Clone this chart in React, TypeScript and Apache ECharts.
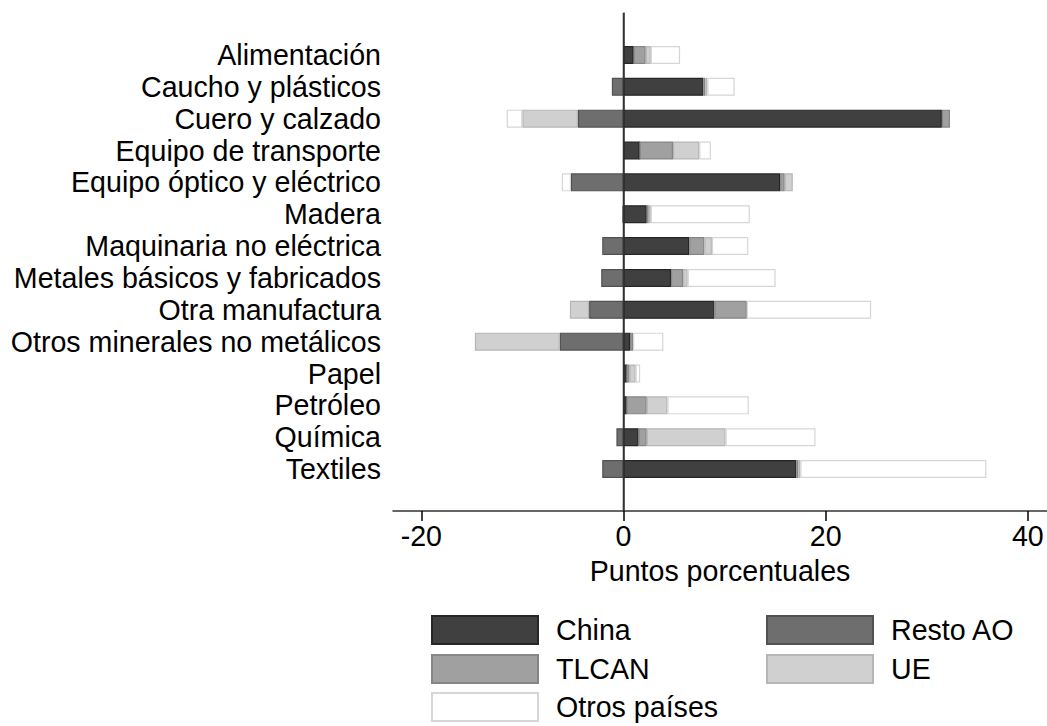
import React, { useEffect, useRef } from "react";
import * as echarts from "echarts";

const categories = [
  "Alimentación",
  "Caucho y plásticos",
  "Cuero y calzado",
  "Equipo de transporte",
  "Equipo óptico y eléctrico",
  "Madera",
  "Maquinaria no eléctrica",
  "Metales básicos y fabricados",
  "Otra manufactura",
  "Otros minerales no metálicos",
  "Papel",
  "Petróleo",
  "Química",
  "Textiles",
];

const china = [1.0, 7.9, 31.5, 1.6, 15.5, 2.3, 6.5, 4.7, 9.0, 0.65, 0.3, 0.3, 1.5, 17.1];
const restoAO = [0, -1.15, -4.5, 0, -5.2, -0.1, -2.1, -2.2, -3.4, -6.3, 0, 0, -0.7, -2.1];
const tlcan = [1.2, 0.2, 0.8, 3.3, 0.45, 0.2, 1.5, 1.2, 3.2, 0.3, 0.3, 2.0, 0.8, 0.2];
const ue = [0.5, 0.2, -5.5, 2.6, 0.8, 0.2, 0.75, 0.45, -1.9, -8.4, 0.6, 2.05, 7.8, 0.2];
const otros = [2.9, 2.7, -1.55, 1.15, -0.9, 9.8, 3.6, 8.7, 12.3, 3.0, 0.45, 8.05, 8.9, 18.4];

const xTicks = [-20, 0, 20, 40];
const xMin = -22.8;
const xMax = 41.9;

const FONT = '"Liberation Sans", Arial, sans-serif';
const FS = 28.6;

export default function App() {
  const ref = useRef<HTMLDivElement>(null);
  useEffect(() => {
    if (!ref.current) return;
    const chart = echarts.init(ref.current, null, { renderer: "svg" });
    const seriesDefs = [
      { name: "China", data: china, color: "#404040", border: "#262626" },
      { name: "Resto AO", data: restoAO, color: "#6e6e6e", border: "#525252" },
      { name: "TLCAN", data: tlcan, color: "#a0a0a0", border: "#868686" },
      { name: "UE", data: ue, color: "#d0d0d0", border: "#b6b6b6" },
      { name: "Otros países", data: otros, color: "#ffffff", border: "#d6d6d6" },
    ];
    const legendPos: Record<string, [number, number]> = {
      China: [431, 615],
      "Resto AO": [766, 615],
      TLCAN: [431, 654],
      UE: [766, 654],
      "Otros países": [431, 692],
    };
    const legends = Object.keys(legendPos).map((name) => ({
      orient: "horizontal",
      left: legendPos[name][0],
      top: legendPos[name][1],
      itemWidth: 106,
      itemHeight: 28,
      padding: 0,
      icon: "rect",
      selectedMode: false,
      data: [name],
      textStyle: { fontSize: FS, fontFamily: FONT, color: "#000", padding: [0, 0, 0, 13] },
    }));
    chart.setOption({
      animation: false,
      backgroundColor: "#fff",
      textStyle: { fontFamily: FONT },
      grid: [
        { left: 393, right: 0, top: 39, height: 446, containLabel: false },
        { left: 393, right: 0, top: 13, height: 498, containLabel: false },
      ],
      legend: legends,
      xAxis: [
        {
          type: "value",
          gridIndex: 1,
          min: xMin,
          max: xMax,
          axisLine: { show: true, onZero: false, lineStyle: { color: "#333", width: 1.5 } },
          axisTick: { show: true, length: 10, customValues: xTicks, lineStyle: { color: "#000", width: 1.5 } },
          axisLabel: {
            customValues: xTicks,
            fontSize: FS,
            fontFamily: FONT,
            color: "#000",
            margin: 10,
          },
          splitLine: { show: false },
          name: "Puntos porcentuales",
          nameLocation: "middle",
          nameGap: 45,
          nameTextStyle: { fontSize: FS, fontFamily: FONT, color: "#000", verticalAlign: "top" },
        },
        {
          type: "value",
          gridIndex: 0,
          min: xMin,
          max: xMax,
          show: false,
        },
      ],
      yAxis: [
        {
          type: "category",
          gridIndex: 0,
          data: categories,
          inverse: true,
          axisLine: { show: false },
          axisTick: { show: false },
          axisLabel: { interval: 0, fontSize: FS, fontFamily: FONT, color: "#000", margin: 12 },
          splitLine: { show: false },
        },
        {
          type: "value",
          gridIndex: 1,
          min: 0,
          max: 1,
          axisLine: { show: true, lineStyle: { color: "#333", width: 1.5 } },
          axisTick: { show: false },
          axisLabel: { show: false },
          splitLine: { show: false },
        },
      ],
      series: [
        ...seriesDefs.map((s) => ({
          name: s.name,
          type: "bar",
          stack: "total",
          xAxisIndex: 1,
          yAxisIndex: 0,
          barWidth: 18,
          data: s.data,
          itemStyle: { color: s.color, borderColor: s.border, borderWidth: 1.2 },
        })),
        {
          name: "zero",
          type: "line",
          xAxisIndex: 0,
          yAxisIndex: 1,
          data: [
            [0, 0],
            [0, 1],
          ],
          symbol: "none",
          z: 10,
          lineStyle: { color: "#333", width: 1.5 },
        },
      ],
    });
    return () => chart.dispose();
  }, []);
  return (
    <div
      ref={ref}
      style={{ position: "absolute", left: 0, top: 0, width: 1047, height: 726 }}
    />
  );
}
